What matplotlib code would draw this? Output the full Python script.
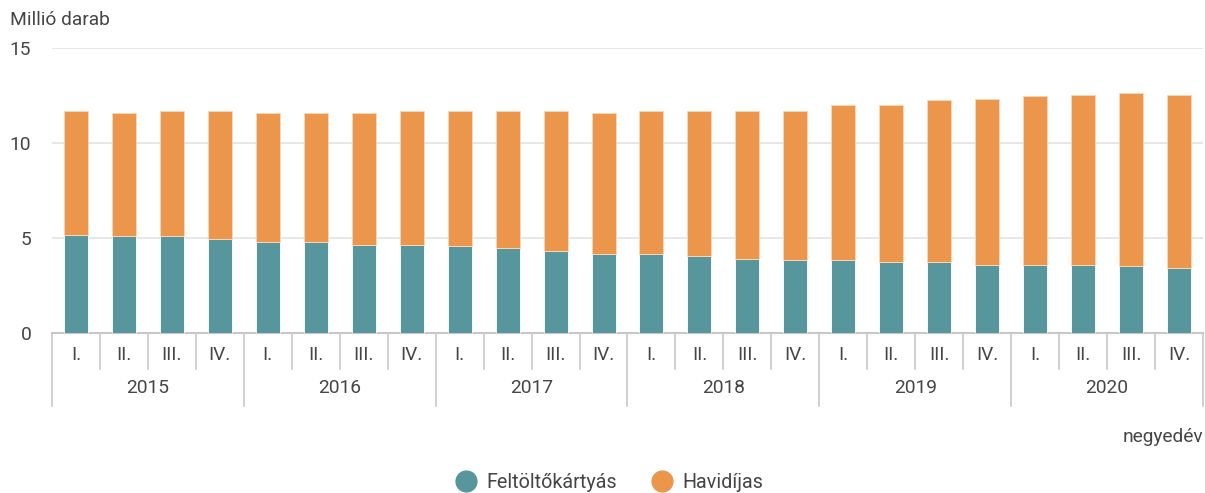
import matplotlib.pyplot as plt
from matplotlib.lines import Line2D
from matplotlib.transforms import blended_transform_factory

plt.rcParams["font.family"] = ["Roboto", "DejaVu Sans"]

# Data (million units)
years = ["2015", "2016", "2017", "2018", "2019", "2020"]
quarters = ["I.", "II.", "III.", "IV."]
totals = [11.69, 11.60, 11.69, 11.69, 11.60, 11.60, 11.60, 11.69,
          11.69, 11.69, 11.69, 11.60, 11.69, 11.69, 11.69, 11.69,
          12.02, 12.02, 12.25, 12.32, 12.48, 12.55, 12.62, 12.55]
feltolto = [5.16, 5.09, 5.09, 4.95, 4.78, 4.78, 4.64, 4.64,
            4.57, 4.48, 4.34, 4.18, 4.18, 4.05, 3.89, 3.82,
            3.82, 3.73, 3.73, 3.58, 3.58, 3.58, 3.51, 3.44]
havidijas = [round(t - f, 2) for t, f in zip(totals, feltolto)]

TEAL = "#58969e"
ORANGE = "#ec964b"
TEXT = "#454545"
FS = 13.8

fig = plt.figure(figsize=(12.05, 4.93), dpi=100)
ax = fig.add_axes([52 / 1205, 160 / 493, 1151 / 1205, 285 / 493])

x = list(range(len(totals)))
ax.bar(x, feltolto, width=0.5, color=TEAL, edgecolor="white", linewidth=0.6, zorder=3)
ax.bar(x, havidijas, bottom=feltolto, width=0.5, color=ORANGE, edgecolor="#f8d9bd", linewidth=0.6, zorder=3)

ax.set_xlim(-0.5, len(totals) - 0.5)
ax.set_ylim(0, 15)
ax.set_yticks([0, 5, 10, 15])
ax.yaxis.grid(True, color="#e3e3e3", linewidth=1.2, zorder=0)
for s in ["top", "right", "left"]:
    ax.spines[s].set_visible(False)
ax.spines["bottom"].set_color("#c8c8c8")
ax.spines["bottom"].set_linewidth(1.5)
ax.set_xticks([])
ax.tick_params(axis="y", length=0, pad=15, labelsize=FS, labelcolor=TEXT)

# two-level category axis
trans = blended_transform_factory(ax.transData, ax.transAxes)
for i in range(len(totals)):
    ax.text(i, -0.077, quarters[i % 4], transform=trans, ha="center", va="center",
            fontsize=FS, color=TEXT)
for j, yr in enumerate(years):
    ax.text(j * 4 + 1.5, -0.193, yr, transform=trans, ha="center", va="center",
            fontsize=FS, color=TEXT)
for k in range(len(totals) + 1):
    bottom = -0.256 if k % 4 == 0 else -0.127
    ax.plot([k - 0.5, k - 0.5], [0, bottom], transform=trans, color="#c8c8c8",
            linewidth=1.2, clip_on=False)

fig.text(10 / 1205, 1 - 20 / 493, "Millió darab", ha="left", va="center", fontsize=FS, color=TEXT)
fig.text(1203 / 1205, 1 - 437 / 493, "negyedév", ha="right", va="center", fontsize=FS, color=TEXT)

handles = [
    Line2D([], [], marker="o", linestyle="", markersize=15, color=TEAL, label="Feltöltőkártyás"),
    Line2D([], [], marker="o", linestyle="", markersize=15, color=ORANGE, label="Havidíjas"),
]
fig.legend(handles=handles, loc="center", bbox_to_anchor=(0.504, 1 - 482 / 493), ncol=2,
           frameon=False, fontsize=FS + 0.4, handlelength=1.5, handletextpad=0.3,
           columnspacing=1.5, labelcolor=TEXT)

fig.savefig("out.png", dpi=100)
